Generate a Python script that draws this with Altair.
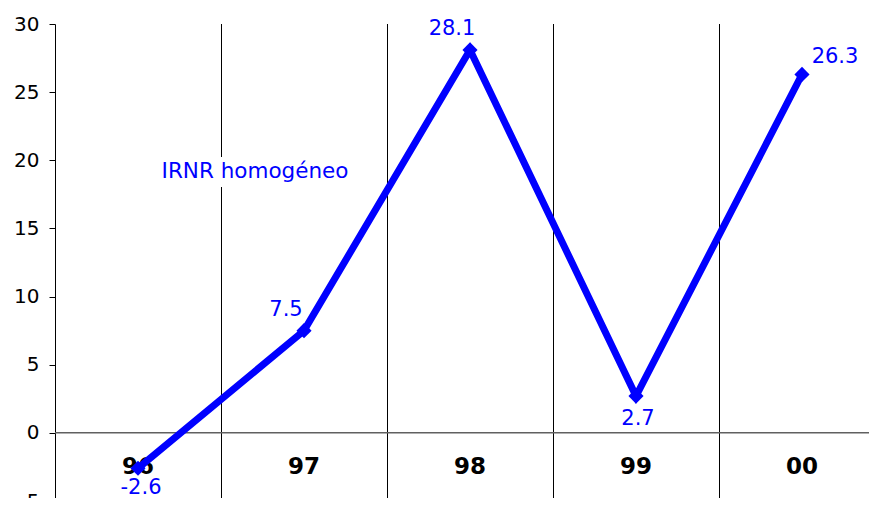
import altair as alt
import pandas as pd

years = ["96", "97", "98", "99", "00"]
values = [-2.6, 7.5, 28.1, 2.7, 26.3]
series_label = "IRNR homogéneo"
y_ticks = [-5, 0, 5, 10, 15, 20, 25, 30]

df = pd.DataFrame({
    "idx": list(range(len(years))),
    "year": years,
    "value": values,
    "label": [f"{v:.1f}" for v in values],
})
bounds = pd.DataFrame({"b": [i + 0.5 for i in range(len(years) - 1)]})
zero = pd.DataFrame({"value": [0]})

W, H = 814, 477
BAND = 166
xs = alt.Scale(domain=[-0.5, -0.5 + W / BAND], nice=False, zero=False)
ys = alt.Scale(domain=[-5, 30], nice=False, zero=False)
FONT = "DejaVu Sans"
BLUE = "#0000ff"

yaxis = alt.Axis(values=y_ticks, title=None, grid=False, labelFontSize=20,
                 labelFont=FONT, labelColor="black", domainColor="black",
                 tickColor="black", tickSize=6, labelPadding=10,
                 domainWidth=1, tickWidth=1)
x_enc = alt.X("idx:Q", scale=xs, axis=None)
y_enc = alt.Y("value:Q", scale=ys, axis=yaxis)

vlines = alt.Chart(bounds).mark_rule(color="black", strokeWidth=1, xOffset=0.5).encode(
    x=alt.X("b:Q", scale=xs, axis=None),
    y=alt.value(0), y2=alt.value(H))

zline = alt.Chart(zero).mark_rule(color="#606060", strokeWidth=1.5).encode(
    y=y_enc, x=alt.value(0), x2=alt.value(W))

box = alt.Chart(zero).mark_rect(color="white").encode(
    x=alt.value(100), x2=alt.value(300), y=alt.value(133), y2=alt.value(163))

series_text = alt.Chart(zero).mark_text(
    text=series_label, color=BLUE, font=FONT, fontSize=21.5, align="center", baseline="middle"
).encode(x=alt.value(200), y=alt.value(148))

line = alt.Chart(df).mark_line(color=BLUE, strokeWidth=7).encode(x=x_enc, y=y_enc)
pts = alt.Chart(df).mark_point(shape="diamond", filled=True, color=BLUE, size=230, opacity=1).encode(
    x=x_enc, y=y_enc)

cat_text = alt.Chart(df).mark_text(
    fontWeight="bold", fontSize=23, font=FONT, color="black", baseline="middle"
).encode(x=x_enc, y=alt.datum(-2.5), text="year:N")

def lab(idxs, dx, dy):
    return alt.Chart(df[df["idx"].isin(idxs)]).mark_text(
        color=BLUE, font=FONT, fontSize=21, dx=dx, dy=dy, baseline="middle"
    ).encode(x=x_enc, y=y_enc, text="label:N")

labels = lab([0], 3, 20) + lab([3], 2, 23) + lab([1, 2], -18, -21) + lab([4], 33, -17)

chart = alt.layer(
    vlines, zline, box, series_text, cat_text, line, pts, labels
).properties(
    width=W, height=H,
    background="white",
    autosize=alt.AutoSizeParams(type="none"),
    padding={"left": 47, "top": 16, "right": 0, "bottom": -3},
).configure_view(strokeWidth=0, stroke="transparent")

chart.save("out.html", embed_options={"renderer": "svg", "actions": False})
